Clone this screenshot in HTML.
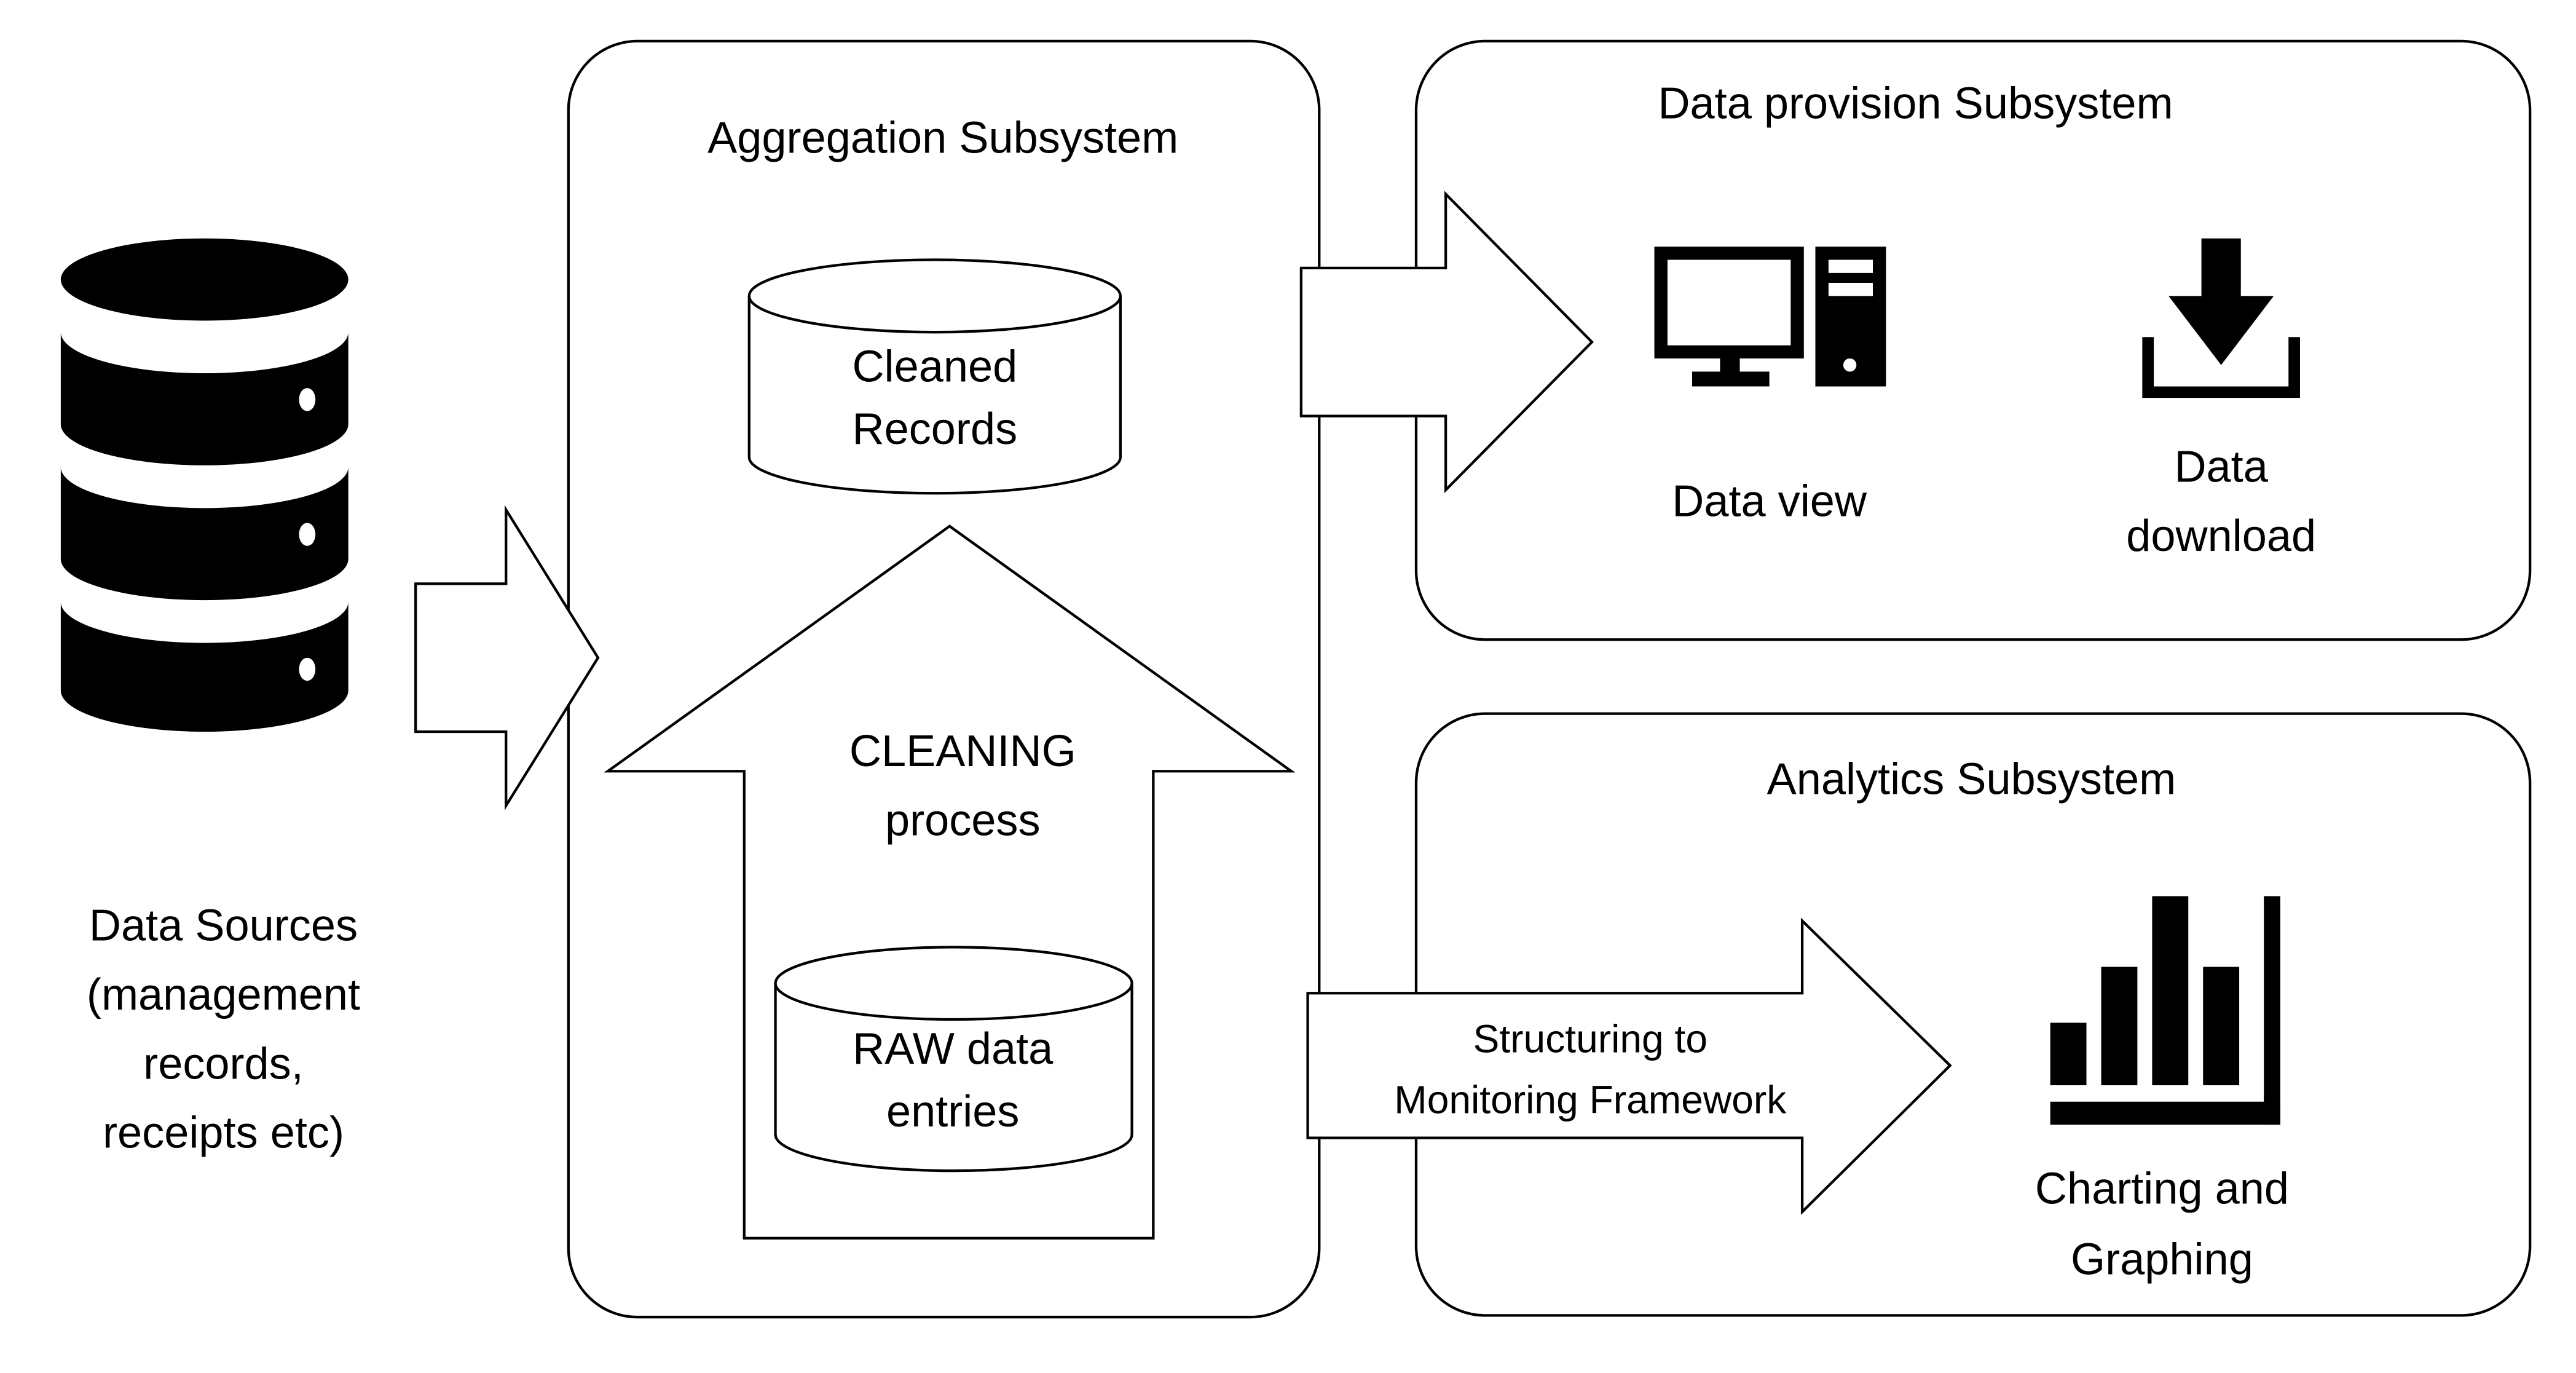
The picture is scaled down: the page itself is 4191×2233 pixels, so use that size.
<!DOCTYPE html>
<html><head><meta charset="utf-8"><style>html,body{margin:0;padding:0;background:#fff}svg{display:block}</style></head>
<body>
<svg width="4191" height="2233" viewBox="0 0 1568 835" preserveAspectRatio="none" xmlns="http://www.w3.org/2000/svg">
<g fill="none" stroke="#000" stroke-width="1.6">
<rect x="346" y="25" width="457" height="776" rx="42"/>
<rect x="862" y="25" width="678" height="364" rx="42"/>
<rect x="862" y="434" width="678" height="366" rx="42"/>
<path d="M253 355 H308 V310 L364 400 L308 490 V445 H253 Z" fill="#fff"/>
<path d="M792 163 H880 V118 L969 208 L880 298 V253 H792 Z" fill="#fff"/>
<path d="M796 604 H1097 V560 L1187 648 L1097 737 V692 H796 Z" fill="#fff"/>
<path d="M578 320 L786 469 H702 V753 H453 V469 H370 Z" fill="#fff"/>
<path d="M456 180 V278 A113 22 0 0 0 682 278 V180" fill="#fff"/>
<ellipse cx="569" cy="180" rx="113" ry="22" fill="#fff"/>
<path d="M472 598 V690 A108.5 22 0 0 0 689 690 V598" fill="#fff"/>
<ellipse cx="580.5" cy="598" rx="108.5" ry="22" fill="#fff"/>
</g>
<g fill="#000">
<path d="M37 366 V420 A87.5 25 0 0 0 212 420 V366 A87.5 25 0 0 1 37 366Z"/>
<path d="M37 284 V340 A87.5 25 0 0 0 212 340 V284 A87.5 25 0 0 1 37 284Z"/>
<path d="M37 202 V258 A87.5 25 0 0 0 212 258 V202 A87.5 25 0 0 1 37 202Z"/>
<ellipse cx="124.5" cy="170" rx="87.5" ry="25"/>
</g>
<g fill="#fff"><ellipse cx="187" cy="243" rx="5" ry="7"/><ellipse cx="187" cy="325" rx="5" ry="7"/><ellipse cx="187" cy="407" rx="5" ry="7"/></g>
<g fill="#000">
<path fill-rule="evenodd" d="M1007 150 H1098 V218 H1007 Z M1015 158 V210 H1090 V158 Z"/>
<rect x="1047" y="218" width="12" height="10"/>
<rect x="1030" y="226" width="47" height="9"/>
<path fill-rule="evenodd" d="M1105 150 H1148 V235 H1105 Z M1113 158 V166 H1140 V158 Z M1113 172 V180 H1140 V172 Z"/>
<circle cx="1126" cy="222" r="4" fill="#fff"/>
<rect x="1340" y="145" width="24" height="38"/>
<path d="M1320 180 H1384 L1352 222 Z"/>
<path d="M1304 205 H1311 V235 H1393 V205 H1400 V242 H1304 Z"/>
<rect x="1248" y="622" width="22" height="38"/>
<rect x="1279" y="588" width="22" height="72"/>
<rect x="1310" y="545" width="22" height="115"/>
<rect x="1341" y="588" width="22" height="72"/>
<rect x="1378" y="545" width="10" height="139"/>
<rect x="1248" y="670" width="140" height="14"/>
</g>
<g font-family="Liberation Sans, sans-serif" font-size="27" fill="#000" text-anchor="middle">
<text x="574" y="93">Aggregation Subsystem</text>
<text x="1166" y="72">Data provision Subsystem</text>
<text x="1200" y="483">Analytics Subsystem</text>
<text x="569" y="232">Cleaned</text><text x="569" y="270">Records</text>
<text x="586" y="466">CLEANING</text><text x="586" y="508">process</text>
<text x="580" y="647">RAW data</text><text x="580" y="685">entries</text>
<text x="136" y="572">Data Sources</text><text x="136" y="614">(management</text><text x="136" y="656">records,</text><text x="136" y="698">receipts etc)</text>
<text x="1077" y="314">Data view</text>
<text x="1352" y="293">Data</text><text x="1352" y="335">download</text>
<text x="1316" y="732">Charting and</text><text x="1316" y="775">Graphing</text>
<text x="968" y="640" font-size="24">Structuring to</text><text x="968" y="677" font-size="24">Monitoring Framework</text>
</g>
</svg>
</body></html>
